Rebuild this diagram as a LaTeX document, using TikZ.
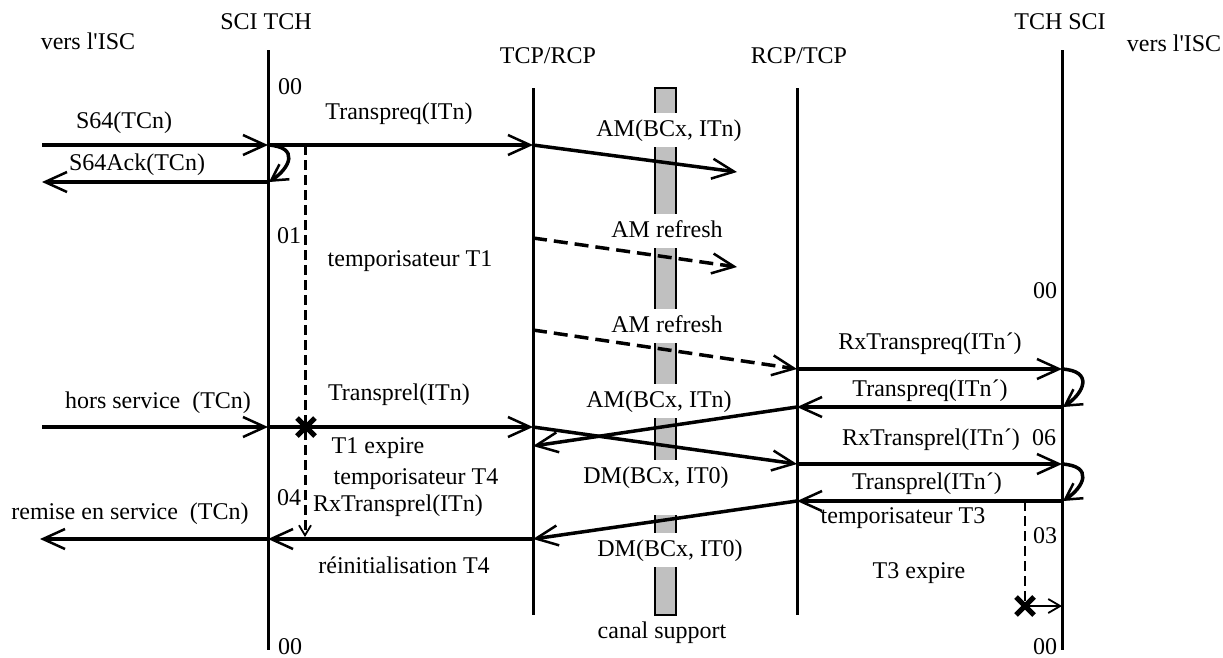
\documentclass[tikz,border=0pt]{standalone}
\usepackage{fontspec}
\setmainfont{Liberation Serif}[Ligatures=TeXOff]
\usetikzlibrary{arrows.meta}
\begin{document}
\begin{tikzpicture}[x=1pt,y=-1pt,
  lbl/.style={inner sep=1pt, text height=17pt, text depth=5pt, font=\fontsize{24}{28}\selectfont},
  barlbl/.style={lbl, fill=white, inner xsep=4pt, inner ysep=6pt},
  life/.style={line width=3pt},
  msg/.style={line width=3.5pt, -{Straight Barb[length=22pt,width=20pt,line width=2.5pt]}},
  dmsg/.style={msg, dash pattern=on 14pt off 7pt},
  loopar/.style={line width=3.5pt, -{Straight Barb[length=16pt,width=18pt,line width=2.5pt]}},
  timer/.style={line width=3pt, dash pattern=on 10pt off 5pt},
  thinar/.style={line width=2pt, -{Straight Barb[length=12pt,width=14pt,line width=1.8pt]}},
  xmark/.style={line width=5pt}
]
\useasboundingbox (0,0) rectangle (1223,657);

% lifelines
\coordinate (L1t) at (268,50);  \coordinate (L1b) at (268,650);
\coordinate (L2t) at (533,88);  \coordinate (L2b) at (533,615);
\coordinate (L3t) at (797,88);  \coordinate (L3b) at (797,615);
\coordinate (L4t) at (1062,50); \coordinate (L4b) at (1062,650);
\draw[life] (L1t) -- (L1b);
\draw[life] (L2t) -- (L2b);
\draw[life] (L3t) -- (L3b);
\draw[life] (L4t) -- (L4b);

% canal support bar
\draw[line width=2.5pt, fill={rgb,255:red,192;green,192;blue,192}] (655,88) rectangle (676,615);
\fill[white] (652,493) rectangle (679,515);

% headers
\node[lbl] (visc1) at (88,43) {vers l'ISC};
\node[lbl] (sci1) at (266,23) {SCI TCH};
\node[lbl] (tcp1) at (548,57) {TCP/RCP};
\node[lbl] (rcp1) at (799,57) {RCP/TCP};
\node[lbl] (sci2) at (1060,23) {TCH SCI};
\node[lbl] (visc2) at (1174,45) {vers l'ISC};

% state numbers
\node[lbl] (s00a) at (290,88) {00};
\node[lbl] (s01) at (289,237) {01};
\node[lbl] (s04) at (289,499) {04};
\node[lbl] (s00b) at (290,648) {00};
\node[lbl] (s00c) at (1045,292) {00};
\node[lbl] (s06) at (1044,439) {06};
\node[lbl] (s03) at (1045,537) {03};
\node[lbl] (s00d) at (1045,648) {00};

% bar labels
\node[barlbl] (am1) at (669,130) {AM(BCx, ITn)};
\node[barlbl] (ref1) at (667,231) {AM refresh};
\node[barlbl] (ref2) at (667,326) {AM refresh};
\node[barlbl] (am2) at (659,401) {AM(BCx, ITn)};
\node[barlbl] (dm1) at (656,477) {DM(BCx, IT0)};
\node[barlbl] (dm2) at (670,550) {DM(BCx, IT0)};
\node[lbl] (canal) at (662,632) {canal support};

% other labels
\node[lbl] (l1) at (124,122) {S64(TCn)};
\node[lbl] (l2) at (137,164) {S64Ack(TCn)};
\node[lbl] (l3) at (399,113) {Transpreq(ITn)};
\node[lbl] (l4) at (410,260) {temporisateur T1};
\node[lbl] (l5) at (930,343) {RxTranspreq(ITn´)};
\node[lbl] (l6) at (930,390) {Transpreq(ITn´)};
\node[lbl] (l7) at (158,402) {hors service\ \ (TCn)};
\node[lbl] (l8) at (399,394) {Transprel(ITn)};
\node[lbl] (l9) at (378,447) {T1 expire};
\node[lbl] (l10) at (931,439) {RxTransprel(ITn´)};
\node[lbl] (l11) at (416,478) {temporisateur T4};
\node[lbl] (l12) at (927,483) {Transprel(ITn´)};
\node[lbl] (l13) at (398,505) {RxTransprel(ITn)};
\node[lbl] (l14) at (130,513) {remise en service\ \ (TCn)};
\node[lbl] (l15) at (903,517) {temporisateur T3};
\node[lbl] (l16) at (404,567) {réinitialisation T4};
\node[lbl] (l17) at (919,572) {T3 expire};

% message coordinates
\coordinate (a0) at (42,145);   \coordinate (a1) at (268,145);
\coordinate (b0) at (42,182);   \coordinate (b1) at (269,182);
\coordinate (c2) at (533,145);  \coordinate (c3) at (737,172);
\coordinate (d2) at (533,238);  \coordinate (d3) at (737,267);
\coordinate (e2) at (533,330);  \coordinate (e3) at (797,369);
\coordinate (f4) at (1062,369);
\coordinate (g4) at (1063,407); \coordinate (g3) at (797,407);
\coordinate (h2) at (533,446);
\coordinate (i0) at (42,427);   \coordinate (i1) at (268,427);
\coordinate (i2) at (533,427);  \coordinate (j3) at (797,464);
\coordinate (j4) at (1062,464);
\coordinate (k4) at (1063,501); \coordinate (k3) at (797,501);
\coordinate (m2) at (533,539);  \coordinate (m1) at (268,539);
\coordinate (m0) at (40,539);
\coordinate (t1a) at (305,145); \coordinate (t1b) at (305,537);
\coordinate (x1) at (306,427);
\coordinate (t3a) at (1025,501); \coordinate (x3) at (1025,606);
\coordinate (x3e) at (1062,606);

% messages
\draw[msg] (a0) -- (a1);
\draw[msg] (b1) -- (b0);
\draw[loopar] (a1) .. controls (300,147) and (290,168) .. (b1);
\draw[msg] (a1) -- (c2);
\draw[msg] (c2) -- (c3);
\draw[dmsg] (d2) -- (d3);
\draw[dmsg] (e2) -- (e3);
\draw[msg] (e3) -- (f4);
\draw[loopar] (f4) .. controls (1094,371) and (1084,393) .. (g4);
\draw[msg] (g4) -- (g3);
\draw[msg] (g3) -- (h2);
\draw[msg] (i0) -- (i1);
\draw[msg] (i1) -- (i2);
\draw[msg] (i2) -- (j3);
\draw[msg] (j3) -- (j4);
\draw[loopar] (j4) .. controls (1094,466) and (1084,487) .. (k4);
\draw[msg] (k4) -- (k3);
\draw[msg] (k3) -- (m2);
\draw[msg] (m2) -- (m1);
\draw[msg] (m1) -- (m0);

% timers
\draw[timer, -{Straight Barb[length=10pt,width=12pt,line width=1.8pt]}] (t1a) -- (t1b);
\draw[xmark] ([shift={(-9,-9)}]x1) -- ([shift={(9,9)}]x1);
\draw[xmark] ([shift={(-9,9)}]x1) -- ([shift={(9,-9)}]x1);
\draw[timer, line width=2.5pt] (t3a) -- (x3);
\draw[xmark] ([shift={(-9,-9)}]x3) -- ([shift={(9,9)}]x3);
\draw[xmark] ([shift={(-9,9)}]x3) -- ([shift={(9,-9)}]x3);
\draw[thinar] (x3) -- (x3e);
\end{tikzpicture}
\end{document}
